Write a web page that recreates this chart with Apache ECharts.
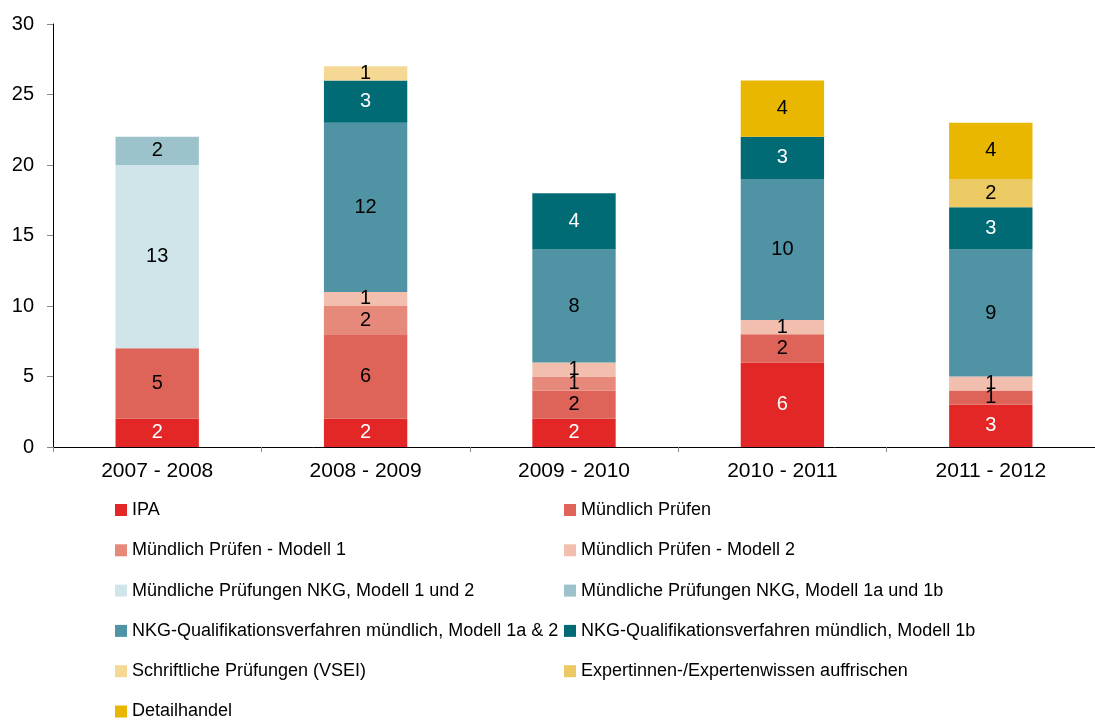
<!DOCTYPE html>
<html>
<head>
<meta charset="utf-8">
<script src="https://cdn.jsdelivr.net/npm/echarts@6/dist/echarts.min.js"></script>
<style>
  html, body { margin: 0; padding: 0; background: #fff; }
  #main { width: 1095px; height: 722px; }
</style>
</head>
<body>
<div id="main"></div>
<script>
// categories (school years)
const years = ['2007 - 2008', '2008 - 2009', '2009 - 2010', '2010 - 2011', '2011 - 2012'];

// series values, bottom to top of stack ('-' = none)
const ipa          = [2, 2, 2, 6, 3];
const muendlich    = [5, 6, 2, 2, 1];
const modell1      = ['-', 2, 1, '-', '-'];
const modell2      = ['-', 1, 1, 1, 1];
const nkgM12       = [13, '-', '-', '-', '-'];
const nkgM1a1b     = [2, '-', '-', '-', '-'];
const nkgQv1a2     = ['-', 12, 8, 10, 9];
const nkgQv1b      = ['-', 3, 4, 3, 3];
const vsei         = ['-', 1, '-', '-', '-'];
const experten     = ['-', '-', '-', '-', 2];
const detailhandel = ['-', '-', '-', 4, 4];

const yTicks = [0, 5, 10, 15, 20, 25, 30];

const seriesDefs = [
  { name: 'IPA', data: ipa, color: '#e32626', text: '#fff' },
  { name: 'Mündlich Prüfen', data: muendlich, color: '#de6359', text: '#000' },
  { name: 'Mündlich Prüfen - Modell 1', data: modell1, color: '#e6887a', text: '#000' },
  { name: 'Mündlich Prüfen - Modell 2', data: modell2, color: '#f2bfae', text: '#000' },
  { name: 'Mündliche Prüfungen NKG, Modell 1 und 2', data: nkgM12, color: '#d0e5ea', text: '#000' },
  { name: 'Mündliche Prüfungen NKG, Modell 1a und 1b', data: nkgM1a1b, color: '#9cc3cb', text: '#000' },
  { name: 'NKG-Qualifikationsverfahren mündlich, Modell 1a & 2', data: nkgQv1a2, color: '#5093a4', text: '#000' },
  { name: 'NKG-Qualifikationsverfahren mündlich, Modell 1b', data: nkgQv1b, color: '#006a75', text: '#fff' },
  { name: 'Schriftliche Prüfungen (VSEI)', data: vsei, color: '#f5d893', text: '#000' },
  { name: 'Expertinnen-/Expertenwissen auffrischen', data: experten, color: '#ebc963', text: '#000' },
  { name: 'Detailhandel', data: detailhandel, color: '#e9b600', text: '#000' }
];

const font = 'Liberation Sans, Arial, sans-serif';

// legend in two columns
const leftCol = seriesDefs.filter((s, i) => i % 2 === 0).map(s => s.name);
const rightCol = seriesDefs.filter((s, i) => i % 2 === 1).map(s => s.name);
const legendBase = {
  orient: 'vertical',
  top: 500,
  height: 240,
  padding: 0,
  icon: 'rect',
  itemWidth: 12,
  itemHeight: 12,
  itemGap: 20.3,
  selectedMode: false,
  textStyle: { fontFamily: font, fontSize: 18, color: '#000', lineHeight: 20 }
};

const myChart = echarts.init(document.getElementById('main'));
const option = {
  animation: false,
  grid: { left: 53, top: 24, width: 1050, height: 423 },
  legend: [
    Object.assign({}, legendBase, { left: 115, data: leftCol }),
    Object.assign({}, legendBase, { left: 564, data: rightCol })
  ],
  xAxis: {
    type: 'category',
    data: years,
    axisLine: { lineStyle: { color: '#000', width: 1 } },
    axisTick: { show: true, length: 5, lineStyle: { color: '#888' } },
    axisLabel: { fontFamily: font, fontSize: 21, color: '#000', margin: 14 }
  },
  yAxis: {
    type: 'value',
    min: yTicks[0],
    max: yTicks[yTicks.length - 1],
    interval: 5,
    splitLine: { show: false },
    axisLine: { show: true, lineStyle: { color: '#000', width: 1 } },
    axisTick: { show: true, length: 6, lineStyle: { color: '#888' } },
    axisLabel: { fontFamily: font, fontSize: 20, color: '#000', margin: 19 }
  },
  series: seriesDefs.map(s => ({
    name: s.name,
    type: 'bar',
    stack: 'total',
    barWidth: '40%',
    data: s.data,
    itemStyle: { color: s.color },
    label: {
      show: true,
      position: 'inside',
      fontFamily: font,
      fontSize: 20,
      color: s.text
    }
  }))
};
myChart.setOption(option);
</script>
</body>
</html>
